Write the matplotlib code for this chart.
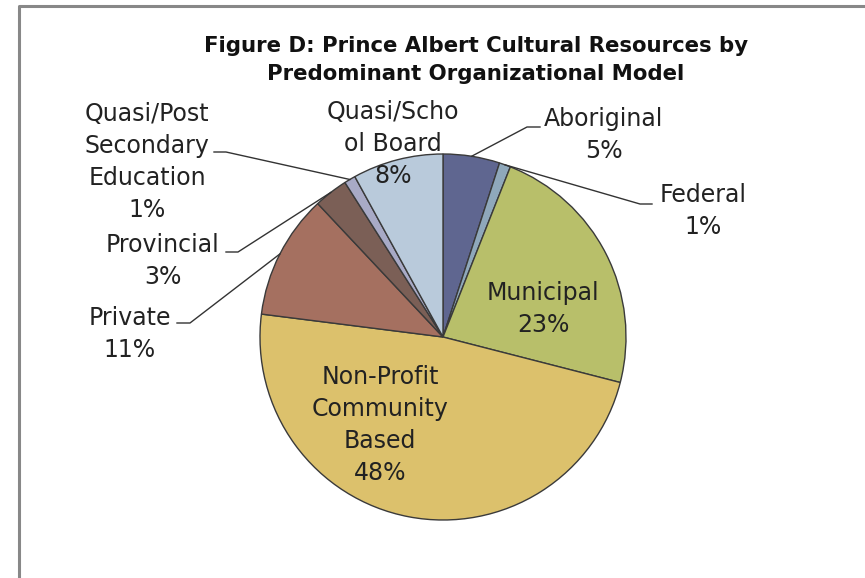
import numpy as np
import matplotlib
matplotlib.use("Agg")
import matplotlib.pyplot as plt

# slices, clockwise from 12 o'clock
labels = ["Aboriginal", "Federal", "Municipal", "Non-Profit\nCommunity\nBased",
          "Private", "Provincial", "Quasi/Post\nSecondary\nEducation", "Quasi/Scho\nol Board"]
values = [5, 1, 23, 48, 11, 3, 1, 8]
colors = ["#5f6690", "#8fa8bb", "#b8bf6a", "#dcc16c",
          "#a57060", "#7b5f56", "#a8aac6", "#b9cadb"]

W, H = 865, 578
fig = plt.figure(figsize=(W / 100, H / 100), dpi=100)
ax = fig.add_axes([0, 0, 1, 1])

# frame like the spreadsheet chart area (bottom and right are cut off)
ax.plot([19, 19, W + 5], [-5, H - 6, H - 6], color="#888888", lw=2.2, solid_capstyle="butt")

cx, cy, r = 443, H - 337, 183
wedges, _ = ax.pie(values, colors=colors, startangle=90, counterclock=False,
                   center=(cx, cy), radius=r, frame=True,
                   wedgeprops=dict(edgecolor="#3a3a3a", linewidth=1.0))
ax.set_xlim(0, W)
ax.set_ylim(0, H)
ax.axis("off")

fs = 17
tkw = dict(fontsize=fs, ha="center", va="center", color="#222222", linespacing=1.43)


def pct(i):
    return f"{values[i]}%"


def edge_point(i):
    w = wedges[i]
    a = np.deg2rad((w.theta1 + w.theta2) / 2)
    return cx + r * np.cos(a), cy + r * np.sin(a)


def leader(i, elbow, end):
    x0, y0 = edge_point(i)
    ax.plot([x0, elbow[0], end[0]], [y0, H - elbow[1], H - end[1]],
            color="#333333", lw=1.0)


# outside labels (positions in pixels from top-left)
ax.text(604, H - 135, labels[0] + "\n" + pct(0), **tkw)
leader(0, (527, 127), (540, 127))

ax.text(703, H - 211, labels[1] + "\n" + pct(1), **tkw)
leader(1, (640, 204), (652, 204))

ax.text(130, H - 334, labels[4] + "\n" + pct(4), **tkw)
leader(4, (190, 323), (177, 323))

ax.text(163, H - 261, labels[5] + "\n" + pct(5), **tkw)
leader(5, (238, 252), (226, 252))

ax.text(147, H - 162, labels[6] + "\n" + pct(6), **tkw)
leader(6, (226, 152), (214, 152))

# inside labels
ax.text(393, H - 144, labels[7] + "\n" + pct(7), **tkw)
ax.text(543, H - 309, labels[2] + "\n" + pct(2), **tkw)
ax.text(380, H - 425, labels[3] + "\n" + pct(3), **tkw)

ax.text(476, H - 60, "Figure D: Prince Albert Cultural Resources by\nPredominant Organizational Model",
        fontsize=15.3, fontweight="bold", ha="center", va="center", color="#111111",
        linespacing=1.5)

fig.savefig("out.png", dpi=100)
